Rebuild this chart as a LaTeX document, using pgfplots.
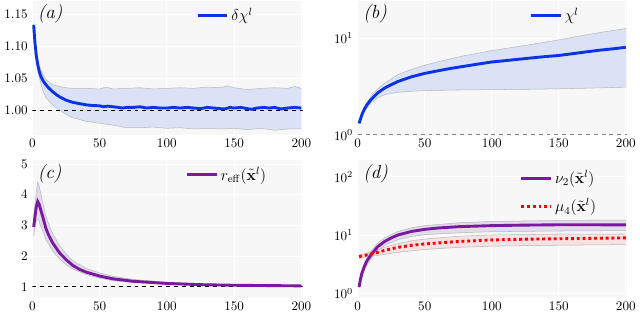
\documentclass[border=0pt]{standalone}
\usepackage{pgfplots}
\pgfplotsset{compat=1.18}
\usepgfplotslibrary{fillbetween}
\definecolor{mblue}{RGB}{10,50,230}
\definecolor{bband}{RGB}{220,226,245}
\definecolor{mpurple}{RGB}{120,25,160}
\definecolor{pband}{RGB}{226,220,234}
\definecolor{rband}{RGB}{248,220,222}
\definecolor{bg}{RGB}{247,247,247}
\pgfplotsset{
  myax/.style={
    scale only axis,
    axis background/.style={fill=bg},
    axis line style={draw=none},
    major tick length=0pt, minor tick length=0pt,
    grid=major, grid style={white, line width=0.8pt},
    xmin=0, xmax=201,
    xtick={0,50,100,150,200},
    tick label style={font=\normalsize},
    legend style={draw=none, fill=none, font=\large, row sep=4pt},
    legend cell align=left,
    legend image code/.code={\draw[##1] (0cm,0cm) -- (0.8cm,0cm);},
  },
  bandedge/.style={draw=gray!55, line width=0.4pt, forget plot},
}
\begin{document}
\begin{tikzpicture}
% ---------------- (a)
\begin{axis}[myax, at={(18.75pt,136.5pt)}, anchor=south west,
  width=206.25pt, height=102pt,
  ymin=0.961, ymax=1.1717,
  ytick={1.00,1.05,1.10,1.15},
  yticklabel style={/pgf/number format/fixed, /pgf/number format/precision=2, /pgf/number format/fixed zerofill},
  legend style={at={(0.84,0.99)}, anchor=north east}]
\addplot[name path=up, bandedge] coordinates {
(1,1.136) (3,1.09) (5,1.070) (8,1.055) (10,1.048) (15,1.040) (20,1.037) (25,1.035) (30,1.034) (40,1.034) (50,1.033) (55,1.036) (60,1.033) (70,1.034) (80,1.035) (90,1.033) (100,1.034) (110,1.035) (120,1.034) (130,1.036) (140,1.035) (145,1.038) (150,1.035) (160,1.032) (170,1.034) (180,1.035) (190,1.034) (195,1.037) (200,1.034)};
\addplot[name path=lo, bandedge] coordinates {
(1,1.132) (3,1.08) (5,1.052) (8,1.030) (10,1.020) (15,1.008) (20,1.000) (25,0.993) (30,0.988) (40,0.982) (50,0.979) (60,0.976) (70,0.972) (80,0.972) (90,0.973) (100,0.971) (110,0.972) (120,0.970) (130,0.971) (140,0.970) (150,0.971) (160,0.969) (170,0.971) (180,0.968) (190,0.970) (200,0.970)};
\addplot[fill=bband, forget plot] fill between[of=up and lo];
\addplot[black, dashed, line width=0.6pt, forget plot] coordinates {(0,1) (201,1)};
\addplot[mblue, line width=2.2pt] coordinates {
(1,1.134) (2,1.105) (3,1.085) (4,1.072) (5,1.062) (6,1.055) (7,1.050) (8,1.046) (10,1.040) (12,1.035) (15,1.029) (18,1.024) (20,1.021) (25,1.0155) (30,1.012) (35,1.010) (40,1.008) (45,1.007) (50,1.0065) (53,1.005) (56,1.006) (60,1.005) (64,1.004) (67,1.003) (70,1.004) (75,1.004) (80,1.005) (85,1.003) (90,1.004) (95,1.003) (100,1.003) (105,1.004) (110,1.003) (115,1.004) (120,1.003) (125,1.002) (130,1.004) (135,1.003) (140,1.002) (143,1.0015) (147,1.004) (150,1.003) (155,1.004) (160,1.002) (163,1.001) (167,1.003) (172,1.004) (176,1.003) (180,1.004) (185,1.0015) (190,1.003) (195,1.004) (200,1.003)};
\addlegendentry{$\delta\chi^l$}
\node[anchor=north west, inner sep=1pt] at (rel axis cs:0.015,0.985) {\Large\itshape (a)};
\end{axis}
% ---------------- (b)
\begin{axis}[myax, ymode=log, at={(267pt,136.5pt)}, anchor=south west,
  width=205.5pt, height=102pt,
  ymin=1, ymax=24.3, ytick={1,10},
  legend style={at={(0.845,0.99)}, anchor=north east}]
\addplot[name path=up, bandedge] coordinates {
(1,1.33) (5,1.95) (10,2.51) (15,3.0) (20,3.42) (30,4.2) (40,4.75) (50,5.24) (60,5.7) (70,6.15) (80,6.6) (90,7.0) (100,7.43) (120,8.2) (140,9.1) (150,9.6) (160,10.2) (180,11.4) (200,12.6)};
\addplot[name path=lo, bandedge] coordinates {
(1,1.29) (5,1.75) (10,2.14) (15,2.42) (20,2.6) (30,2.75) (40,2.82) (50,2.86) (70,2.9) (100,2.93) (130,2.96) (150,2.99) (170,3.03) (200,3.11)};
\addplot[fill=bband, forget plot] fill between[of=up and lo];
\addplot[gray, dashed, line width=0.6pt, forget plot] coordinates {(0,1) (201,1)};
\addplot[mblue, line width=2.2pt] coordinates {
(1,1.31) (3,1.6) (5,1.85) (7,2.05) (10,2.32) (15,2.72) (20,3.04) (25,3.3) (30,3.56) (40,3.98) (50,4.32) (60,4.6) (70,4.88) (80,5.13) (90,5.4) (100,5.67) (110,5.85) (120,6.05) (130,6.25) (140,6.45) (150,6.62) (160,6.9) (170,7.2) (180,7.5) (190,7.75) (200,8.05)};
\addlegendentry{$\chi^l$}
\node[anchor=north west, inner sep=1pt] at (rel axis cs:0.015,0.985) {\Large\itshape (b)};
\end{axis}
% ---------------- (c)
\begin{axis}[myax, at={(18.75pt,12pt)}, anchor=south west,
  width=206.25pt, height=105pt,
  ymin=0.638, ymax=5.125, ytick={1,2,3,4,5},
  legend style={at={(0.89,0.99)}, anchor=north east}]
\addplot[name path=up, bandedge] coordinates {
(1,3.2) (2,3.7) (3,4.1) (4,4.42) (5,4.3) (6,4.1) (8,3.7) (10,3.3) (15,2.75) (20,2.35) (25,2.08) (30,1.85) (40,1.6) (50,1.45) (60,1.34) (75,1.24) (100,1.15) (125,1.1) (150,1.07) (200,1.04)};
\addplot[name path=lo, bandedge] coordinates {
(1,2.65) (2,2.95) (3,3.15) (4,3.2) (5,3.15) (6,3.0) (8,2.8) (10,2.55) (15,2.18) (20,1.92) (25,1.73) (30,1.58) (40,1.4) (50,1.28) (60,1.2) (75,1.14) (100,1.08) (125,1.05) (150,1.03) (200,1.02)};
\addplot[fill=pband, forget plot] fill between[of=up and lo];
\addplot[black, dashed, line width=0.6pt, forget plot] coordinates {(0,1) (201,1)};
\addplot[mpurple, line width=2.2pt] coordinates {
(1,2.95) (2,3.3) (3,3.62) (4,3.78) (5,3.7) (6,3.55) (8,3.25) (10,2.92) (12,2.7) (15,2.44) (20,2.12) (25,1.89) (30,1.70) (35,1.57) (40,1.48) (50,1.35) (60,1.26) (75,1.18) (100,1.11) (125,1.07) (150,1.05) (175,1.04) (200,1.03)};
\addlegendentry{$r_{\mathrm{eff}}(\tilde{\mathbf{x}}^l)$}
\node[anchor=north west, inner sep=1pt] at (rel axis cs:0.015,0.985) {\Large\itshape (c)};
\end{axis}
% ---------------- (d)
\begin{axis}[myax, ymode=log, at={(267pt,12pt)}, anchor=south west,
  width=205.5pt, height=105pt,
  ymin=0.845, ymax=192, ytick={1,10,100},
  legend style={at={(0.91,0.965)}, anchor=north east, row sep=6pt}]
\addplot[name path=pu, bandedge] coordinates {
(1,1.35) (5,3.3) (10,5.4) (15,7.4) (20,9.0) (30,11.6) (40,13.4) (50,14.6) (75,16.3) (100,17.2) (150,17.9) (200,18.2)};
\addplot[name path=pl, bandedge] coordinates {
(1,1.25) (5,2.6) (10,4.0) (15,5.5) (20,6.7) (30,8.4) (40,9.5) (50,10.2) (75,11.0) (100,11.5) (150,11.8) (200,12.0)};
\addplot[fill=pband, forget plot] fill between[of=pu and pl];
\addplot[name path=ru, bandedge] coordinates {
(1,4.6) (5,4.8) (10,5.2) (20,6.2) (30,7.2) (40,8.0) (50,8.6) (75,9.6) (100,10.1) (150,10.4) (200,10.5)};
\addplot[name path=rl, bandedge] coordinates {
(1,4.0) (5,4.2) (10,4.35) (20,4.7) (30,5.1) (40,5.4) (50,5.7) (75,6.2) (100,6.5) (150,6.75) (200,6.9)};
\addplot[fill=rband, fill opacity=0.8, forget plot] fill between[of=ru and rl];
\addplot[mpurple, line width=2.2pt] coordinates {
(1,1.3) (2,1.75) (3,2.2) (5,2.94) (7,3.7) (10,4.64) (15,6.4) (20,7.8) (25,9.0) (30,10.1) (40,11.6) (50,12.6) (60,13.3) (75,14.0) (100,14.6) (125,14.9) (150,15.1) (175,15.1) (200,15.0)};
\addlegendentry{$\nu_2(\tilde{\mathbf{x}}^l)$}
\addplot[red, line width=2.2pt, dash pattern=on 2.2pt off 2.2pt] coordinates {
(1,4.3) (5,4.5) (10,4.76) (15,5.1) (20,5.5) (30,6.2) (40,6.7) (50,7.1) (75,7.8) (100,8.3) (125,8.55) (150,8.7) (175,8.85) (200,9.0)};
\addlegendentry{$\mu_4(\tilde{\mathbf{x}}^l)$}
\node[anchor=north west, inner sep=1pt] at (rel axis cs:0.015,0.985) {\Large\itshape (d)};
\end{axis}
\path (0,0) rectangle (480pt,239.25pt);
\end{tikzpicture}
\end{document}
